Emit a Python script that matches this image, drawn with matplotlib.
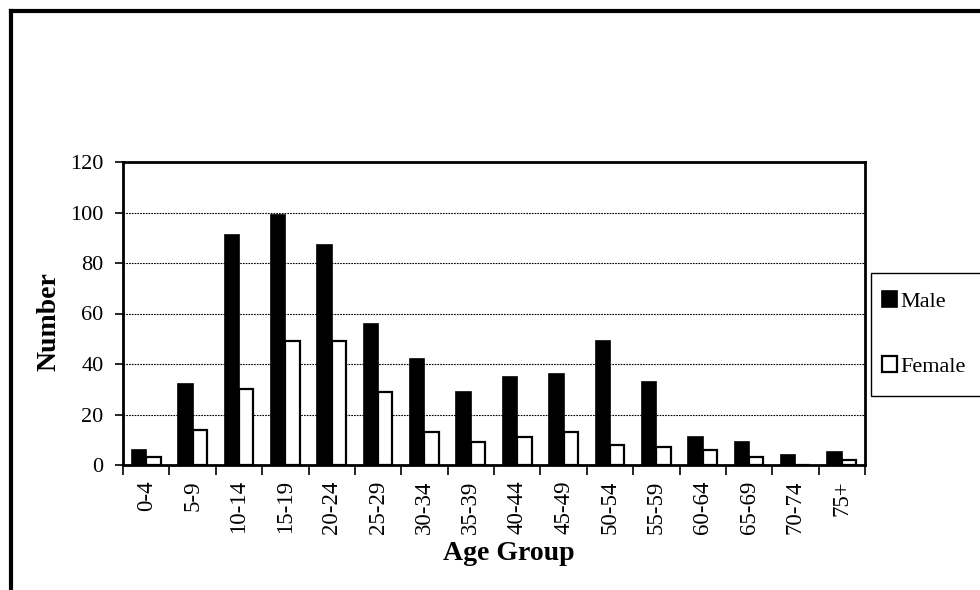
import matplotlib
matplotlib.use("Agg")
import matplotlib.pyplot as plt
import numpy as np
from matplotlib.lines import Line2D
from matplotlib.patches import Rectangle

age_groups = ["0-4", "5-9", "10-14", "15-19", "20-24", "25-29", "30-34", "35-39",
              "40-44", "45-49", "50-54", "55-59", "60-64", "65-69", "70-74", "75+"]
male = [6, 32, 91, 99, 87, 56, 42, 29, 35, 36, 49, 33, 11, 9, 4, 5]
female = [3, 14, 30, 49, 49, 29, 13, 9, 11, 13, 8, 7, 6, 3, 0, 2]

plt.rcParams["font.family"] = ["Liberation Serif", "DejaVu Serif"]

W, H = 980, 590
fig = plt.figure(figsize=(W / 100, H / 100), dpi=100)
ax = fig.add_axes([123 / W, 1 - 465 / H, (865 - 123) / W, (465 - 162) / H])

x = np.arange(len(age_groups))
w = 0.31
ax.bar(x - w / 2, male, w, color="black", edgecolor="black", linewidth=1.2,
       label="Male", zorder=3)
ax.bar(x + w / 2, female, w, color="white", edgecolor="black", linewidth=1.6,
       label="Female", zorder=3)

ax.set_xlim(-0.5, len(age_groups) - 0.5)
ax.set_ylim(0, 120)
ax.set_yticks(range(0, 121, 20))
ax.yaxis.grid(True, linestyle=(0, (1.5, 1.0)), color="black", linewidth=0.8, zorder=0)

# boundaries get tick marks, centres get labels
ax.set_xticks(np.arange(-0.5, len(age_groups)), labels=[])
ax.set_xticks(x, labels=age_groups, minor=True, rotation=90)
ax.tick_params(axis="x", which="major", length=7, width=1.2, direction="out")
ax.tick_params(axis="x", which="minor", length=0, pad=11, labelsize=16.5)
ax.tick_params(axis="y", length=6, width=1.2, pad=8, labelsize=16)

for s in ax.spines.values():
    s.set_linewidth(2)

ax.set_xlabel("Age Group", fontsize=20, fontweight="bold")
ax.set_ylabel("Number", fontsize=20, fontweight="bold")
ax.xaxis.set_label_coords(0.52, -0.252)
ax.yaxis.set_label_coords(-0.083, 0.472)

leg = ax.legend(loc="center left", bbox_to_anchor=(873 / W, 1 - 334 / H),
                bbox_transform=fig.transFigure, frameon=False, fontsize=16,
                handlelength=0.7, handleheight=0.7, handletextpad=0.15,
                labelspacing=2.0, borderaxespad=0)

# legend box runs off the right edge, like the original
fig.add_artist(Rectangle((871 / W, 1 - 396 / H), 130 / W, 123 / H,
                         transform=fig.transFigure, fill=False,
                         edgecolor="black", linewidth=1))

# outer chart frame (only top and left visible)
fig.add_artist(Line2D([10.5 / W, 1.1], [1 - 11 / H, 1 - 11 / H],
                      transform=fig.transFigure, color="black", linewidth=3))
fig.add_artist(Line2D([10.5 / W, 10.5 / W], [-0.1, 1 - 11 / H],
                      transform=fig.transFigure, color="black", linewidth=3))

fig.savefig("out.png", dpi=100)
